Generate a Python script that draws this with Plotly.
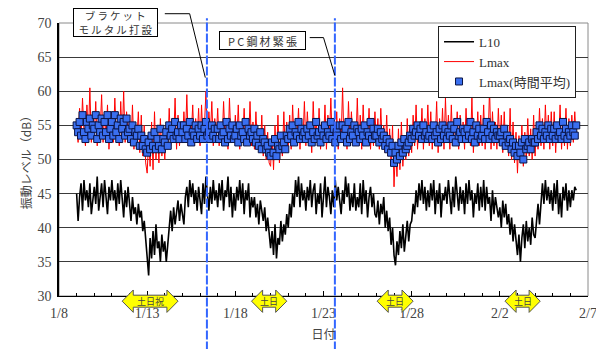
import pandas as pd
import plotly.graph_objects as go

# ---------------- data (2-hourly, from 2008-01-09 00:00) ----------------
START = "2008-01-09 00:00"
STEP = "2h"

L10 = [
    45.0, 41.0, 44.5, 46.5, 42.5, 47.0, 44.0, 45.5, 43.0, 46.5, 42.0, 44.5,   # 1/9
    46.0, 43.5, 47.5, 42.5, 45.0, 46.5, 43.0, 47.0, 44.5, 42.0, 46.0, 44.0,   # 1/10
    47.0, 44.0, 45.5, 42.5, 46.5, 43.5, 47.0, 44.5, 41.5, 45.5, 43.0, 46.0,   # 1/11
    43.5, 41.0, 44.5, 42.0, 43.0, 40.5, 43.5, 41.5, 42.5, 39.5, 41.0, 38.5,   # 1/12
    36.0, 33.0, 38.5, 35.5, 39.5, 36.0, 40.5, 37.0, 38.0, 35.0, 39.0, 36.5,   # 1/13
    38.0, 35.0, 37.5, 40.5, 42.5, 39.5, 43.0, 40.5, 42.0, 44.0, 41.0, 43.5,   # 1/14
    42.0, 40.5, 44.5, 46.0, 43.0, 47.0, 44.5, 46.5, 43.5, 45.5, 42.5, 46.0,   # 1/15
    44.0, 42.0, 46.5, 43.5, 47.5, 45.0, 42.5, 46.0, 43.5, 47.0, 44.0, 45.5,   # 1/16
    43.0, 46.5, 44.0, 47.0, 42.5, 45.5, 44.5, 47.5, 43.0, 46.0, 41.5, 45.0,   # 1/17
    42.5, 46.0, 44.0, 47.0, 43.5, 46.5, 42.0, 45.5, 44.0, 46.5, 41.5, 44.5,   # 1/18
    43.0, 44.5, 41.5, 43.5, 40.5, 44.0, 42.0, 41.0, 43.0, 39.5, 41.5, 38.5,   # 1/19
    37.0, 39.5, 36.0, 40.5, 35.5, 38.5, 37.5, 41.0, 38.0, 40.5, 39.0, 42.0,   # 1/20
    40.0, 43.5, 41.5, 45.0, 43.0, 47.0, 44.5, 47.5, 43.0, 46.5, 44.0, 45.5,   # 1/21
    42.5, 46.0, 44.0, 47.0, 43.0, 45.5, 46.5, 42.0, 45.0, 43.5, 46.5, 41.5,   # 1/22
    44.0, 47.5, 43.0, 46.0, 44.5, 42.0, 45.5, 43.0, 47.0, 44.0, 46.0, 43.5,   # 1/23
    42.0, 45.5, 43.5, 47.5, 44.5, 46.5, 42.5, 45.0, 43.0, 46.5, 42.5, 44.5,   # 1/24
    43.0, 46.5, 42.0, 47.0, 43.5, 45.5, 41.5, 44.5, 46.0, 43.0, 45.0, 42.0,   # 1/25
    41.5, 44.0, 40.5, 43.5, 42.0, 44.5, 40.0, 42.5, 39.5, 41.5, 37.5, 40.0,   # 1/26
    36.0, 34.5, 38.0, 36.0, 39.5, 37.0, 40.5, 36.5, 39.0, 41.0, 38.0, 40.5,   # 1/27
    41.0, 43.5, 42.0, 45.5, 43.0, 46.5, 44.0, 47.0, 43.5, 46.0, 42.5, 45.5,   # 1/28
    43.0, 46.5, 44.0, 47.0, 42.0, 45.5, 43.5, 46.5, 41.5, 45.0, 44.0, 46.0,   # 1/29
    43.5, 47.0, 44.5, 42.0, 46.0, 43.0, 47.5, 44.5, 42.5, 46.0, 43.5, 45.5,   # 1/30
    42.0, 46.5, 43.5, 47.0, 44.0, 45.5, 41.5, 45.0, 43.5, 46.5, 42.5, 46.0,   # 1/31
    43.0, 47.0, 42.5, 46.0, 43.5, 44.5, 41.0, 45.5, 42.0, 44.5, 43.0, 41.5,   # 2/1
    43.0, 40.0, 44.0, 41.5, 43.5, 40.5, 42.0, 39.0, 41.5, 38.0, 40.5, 37.5,   # 2/2
    36.0, 39.0, 35.0, 38.5, 40.5, 37.0, 41.0, 38.0, 40.0, 37.5, 41.5, 39.0,   # 2/3
    38.5, 41.0, 43.5, 40.5, 44.5, 46.5, 43.5, 47.0, 44.0, 46.0, 43.5, 45.5,   # 2/4
    42.5, 46.5, 43.5, 47.0, 42.0, 45.0, 41.5, 46.0, 44.0, 46.5, 42.5, 45.5,   # 2/5
    43.0, 45.5, 44.0, 46.0, 45.5,                                             # 2/6
]

LMAX = [
    55.0, 52.5, 57.5, 53.0, 59.0, 54.0, 52.0, 58.0, 53.5, 60.5, 52.5, 56.0,
    53.5, 58.5, 52.0, 56.5, 54.0, 59.5, 52.5, 57.0, 53.0, 58.0, 51.5, 55.5,
    57.0, 52.5, 59.0, 53.5, 55.5, 52.0, 58.5, 53.0, 60.0, 52.5, 57.0, 53.5,
    56.0, 52.0, 58.0, 51.5, 55.5, 53.0, 57.0, 51.0, 56.5, 50.5, 55.0, 49.5,
    48.0, 53.0, 49.0, 55.5, 48.5, 57.0, 50.0, 54.5, 49.5, 56.0, 50.5, 53.5,
    50.0, 55.0, 51.5, 57.5, 52.0, 54.5, 52.5, 59.0, 51.5, 56.5, 52.0, 55.5,
    52.5, 57.0, 53.0, 59.5, 52.0, 55.5, 53.5, 58.0, 52.0, 56.0, 53.0, 57.5,
    52.0, 58.0, 53.0, 55.0, 60.0, 52.5, 57.0, 53.5, 58.5, 52.0, 56.0, 53.0,
    57.5, 52.0, 55.5, 52.5, 58.5, 53.0, 56.0, 51.5, 59.0, 53.0, 55.0, 52.5,
    56.5, 52.5, 58.0, 51.5, 55.5, 53.0, 57.5, 52.0, 56.0, 52.5, 58.5, 52.0,
    55.5, 51.5, 57.0, 52.0, 54.5, 51.0, 56.5, 50.5, 55.0, 50.0, 54.0, 49.5,
    49.0, 53.5, 48.5, 55.0, 50.0, 56.5, 49.5, 54.0, 50.5, 57.0, 51.0, 55.5,
    52.0, 56.5, 51.5, 58.0, 52.5, 55.0, 53.0, 57.5, 51.5, 56.0, 52.5, 58.5,
    52.0, 57.0, 53.0, 55.5, 51.0, 58.5, 52.5, 56.0, 52.0, 57.5, 51.5, 55.0,
    52.5, 58.0, 51.5, 56.5, 53.0, 59.0, 52.0, 55.5, 52.5, 57.0, 51.5, 56.0,
    53.0, 60.5, 52.0, 56.0, 51.5, 58.5, 52.5, 57.0, 53.0, 55.5, 52.0, 59.0,
    52.0, 56.5, 51.5, 58.0, 52.5, 55.5, 53.0, 57.5, 51.5, 56.0, 52.0, 57.0,
    52.5, 56.0, 51.5, 57.5, 52.0, 55.0, 51.0, 56.5, 50.5, 54.5, 49.5, 55.0,
    46.0, 52.0, 47.5, 54.5, 48.5, 55.5, 49.0, 53.5, 50.0, 56.0, 50.5, 54.5,
    51.0, 56.5, 52.0, 58.0, 51.5, 55.5, 52.5, 57.5, 51.5, 56.0, 52.5, 58.0,
    52.0, 57.0, 51.5, 55.5, 52.5, 58.5, 51.0, 56.0, 52.0, 57.5, 51.5, 59.0,
    52.5, 56.5, 51.5, 58.0, 52.0, 55.0, 53.0, 57.0, 51.5, 56.5, 52.5, 55.5,
    51.5, 57.5, 52.5, 56.0, 52.0, 59.0, 51.0, 55.5, 52.5, 57.0, 52.0, 56.5,
    52.0, 58.0, 51.5, 56.0, 52.5, 60.5, 51.5, 57.0, 52.0, 55.5, 51.5, 57.5,
    52.0, 56.5, 51.0, 57.0, 51.5, 55.0, 50.5, 57.5, 50.0, 55.5, 49.5, 54.0,
    48.0, 53.5, 49.5, 55.0, 49.0, 54.0, 50.0, 56.0, 50.5, 54.5, 50.0, 56.5,
    50.5, 55.5, 51.5, 57.5, 52.0, 56.0, 51.5, 58.0, 52.5, 56.5, 51.5, 57.0,
    52.0, 57.0, 51.0, 55.5, 52.5, 58.0, 51.5, 56.0, 52.0, 57.5, 51.5, 56.0,
    52.0, 56.5, 52.5, 57.0, 53.0,
]

LMAX_AVG = [
    55.0, 54.0, 55.5, 53.5, 56.5, 54.0, 53.0, 55.5, 54.5, 56.0, 53.5, 55.0,
    54.5, 56.5, 53.0, 55.0, 54.0, 56.0, 53.5, 55.5, 54.0, 56.5, 53.0, 54.5,
    55.5, 53.5, 56.5, 54.0, 55.0, 53.0, 56.0, 54.5, 55.5, 53.5, 56.0, 54.0,
    54.5, 53.0, 55.0, 52.5, 54.0, 53.5, 54.5, 52.0, 53.5, 52.0, 53.0, 51.5,
    51.0, 52.5, 51.5, 53.5, 52.0, 54.0, 51.5, 53.0, 52.0, 54.5, 51.5, 53.0,
    52.5, 54.0, 52.0, 55.0, 53.5, 54.5, 53.0, 55.5, 53.5, 54.0, 53.0, 55.0,
    54.0, 55.0, 53.0, 54.5, 53.5, 55.5, 52.5, 54.0, 53.5, 55.0, 53.0, 54.5,
    53.5, 55.0, 53.0, 54.5, 55.5, 53.5, 54.0, 53.0, 55.0, 53.5, 54.5, 53.0,
    54.5, 53.0, 55.0, 53.5, 54.0, 52.5, 55.5, 53.0, 54.5, 53.5, 55.0, 53.0,
    53.5, 54.5, 52.5, 55.0, 53.5, 54.0, 53.0, 55.5, 52.5, 54.5, 53.5, 54.0,
    53.0, 54.5, 52.5, 53.5, 52.0, 54.0, 51.5, 53.0, 52.5, 51.5, 52.0, 51.0,
    50.5, 52.5, 51.0, 53.0, 50.5, 52.0, 51.5, 53.5, 52.0, 52.5, 51.5, 53.5,
    53.0, 54.5, 53.5, 55.0, 52.5, 54.0, 53.5, 55.5, 53.0, 54.5, 53.5, 54.0,
    53.0, 54.5, 53.5, 55.0, 52.5, 54.0, 53.0, 55.5, 53.5, 54.0, 52.5, 54.5,
    53.5, 55.0, 53.0, 54.0, 53.5, 55.5, 53.0, 54.5, 52.5, 54.0, 53.5, 55.0,
    53.0, 55.0, 53.5, 54.5, 52.5, 55.5, 53.0, 54.0, 53.5, 55.0, 52.5, 54.5,
    54.0, 53.0, 54.5, 53.5, 55.0, 52.5, 54.0, 53.5, 55.5, 53.0, 54.5, 53.5,
    53.5, 54.5, 52.5, 54.0, 53.0, 53.5, 52.0, 53.0, 51.5, 52.5, 51.0, 52.0,
    49.5, 51.0, 50.0, 52.0, 50.5, 52.5, 51.0, 53.0, 51.5, 52.0, 52.5, 53.5,
    53.0, 54.5, 53.5, 54.0, 55.0, 53.5, 54.5, 53.0, 55.0, 53.5, 54.0, 53.0,
    53.5, 54.5, 53.0, 55.0, 53.5, 54.0, 52.5, 54.5, 53.0, 55.0, 53.5, 54.5,
    53.0, 54.0, 53.5, 55.0, 53.0, 54.5, 52.5, 55.5, 53.5, 54.0, 53.0, 54.5,
    54.0, 53.0, 54.5, 53.5, 55.5, 53.0, 54.0, 52.5, 55.0, 53.5, 54.5, 53.0,
    53.5, 54.5, 53.0, 55.5, 54.0, 53.0, 55.0, 53.5, 54.5, 53.0, 54.0, 53.5,
    53.5, 54.0, 52.5, 54.5, 52.0, 53.5, 52.5, 53.0, 51.5, 52.5, 51.0, 52.0,
    50.5, 52.0, 51.0, 52.5, 50.0, 53.0, 51.5, 52.0, 52.5, 51.5, 53.0, 52.5,
    52.5, 54.0, 53.0, 55.0, 53.5, 54.5, 53.0, 54.0, 53.5, 55.0, 53.0, 54.5,
    53.5, 54.5, 53.0, 55.0, 53.5, 54.0, 53.0, 55.5, 53.5, 54.5, 53.0, 54.0,
    53.5, 55.0, 54.0, 53.5, 55.0,
]

SERIES_NAMES = ["L10", "Lmax", "Lmax(時間平均)"]

X_RANGE = ["2008-01-08", "2008-02-07"]
Y_RANGE = [30, 70]

EVENT_TIMES = ["2008-01-16 09:20", "2008-01-23 15:30"]
EVENT_LABELS = ["ブ\u2009ラ\u2009ケ\u2009ッ\u2009ト<br>モ\u2009ル\u2009タ\u2009ル\u2009打\u2009設",
                "P\u2009C\u2009鋼\u2009材\u2009緊\u2009張"]

WEEKEND_START = ["2008-01-11 14:00", "2008-01-18 22:00", "2008-01-26 01:00", "2008-02-02 07:00"]
WEEKEND_END = ["2008-01-14 18:00", "2008-01-20 22:00", "2008-01-28 02:00", "2008-02-04 07:00"]
WEEKEND_LABELS = ["土日祝", "土日", "土日", "土日"]

X_TITLE = "日付"
Y_TITLE = "振動レベル（dB）"

# ---------------- figure ----------------
times = pd.date_range(START, periods=len(L10), freq=STEP)

SERIF = "Liberation Serif, Noto Sans CJK JP"
CJK = "Noto Sans CJK JP"

fig = go.Figure()
fig.add_trace(go.Scatter(x=times, y=L10, mode="lines", name=SERIES_NAMES[0],
                         line=dict(color="black", width=1.6)))
fig.add_trace(go.Scatter(x=times, y=LMAX, mode="lines", name=SERIES_NAMES[1],
                         line=dict(color="#ff0000", width=1)))
fig.add_trace(go.Scatter(x=times, y=LMAX_AVG, mode="markers", name=SERIES_NAMES[2],
                         marker=dict(symbol="square", size=7, color="#3a6ff0",
                                     line=dict(color="#0a1445", width=1))))

x0 = pd.Timestamp(X_RANGE[0])
x1 = pd.Timestamp(X_RANGE[1])


def xp(t):
    return (pd.Timestamp(t) - x0) / (x1 - x0)


shapes = []
shapes.append(dict(type="rect", xref="paper", yref="paper", x0=0, x1=1, y0=0, y1=1,
                   line=dict(color="#8a8a8a", width=1), layer="below"))
for t in EVENT_TIMES:
    shapes.append(dict(type="line", xref="x", yref="paper", x0=t, x1=t, y0=-0.2, y1=1.017,
                       line=dict(color="#3366ff", width=2, dash="9px,2px")))

e1 = xp(EVENT_TIMES[0])
e2 = xp(EVENT_TIMES[1])
shapes.append(dict(type="path", xref="paper", yref="paper",
                   path=f"M 0.200 1.034 L 0.247 1.034 L {e1 - 0.003:.4f} 0.80",
                   line=dict(color="black", width=1)))
shapes.append(dict(type="path", xref="paper", yref="paper",
                   path=f"M 0.474 0.9465 L 0.500 0.9465 L {e2:.4f} 0.8077",
                   line=dict(color="black", width=1)))

yc, hb, hh = -0.019, 0.022, 0.041
head = 0.021
annotations = []
for s, e, lab in zip(WEEKEND_START, WEEKEND_END, WEEKEND_LABELS):
    a, b = xp(s), xp(e)
    p = (f"M {a:.4f} {yc:.4f} L {a+head:.4f} {yc+hh:.4f} L {a+head:.4f} {yc+hb:.4f} "
         f"L {b-head:.4f} {yc+hb:.4f} L {b-head:.4f} {yc+hh:.4f} L {b:.4f} {yc:.4f} "
         f"L {b-head:.4f} {yc-hh:.4f} L {b-head:.4f} {yc-hb:.4f} L {a+head:.4f} {yc-hb:.4f} "
         f"L {a+head:.4f} {yc-hh:.4f} Z")
    shapes.append(dict(type="path", xref="paper", yref="paper", path=p,
                       fillcolor="#ffff00", line=dict(color="#555555", width=1)))
    annotations.append(dict(xref="paper", yref="paper", x=(a + b) / 2, y=yc, text=lab,
                            showarrow=False, font=dict(family=CJK, size=9, color="#444444"),
                            xanchor="center", yanchor="middle"))

# callout boxes
annotations.append(dict(xref="paper", yref="paper", x=0.1062, y=1.0026, text=EVENT_LABELS[0],
                        showarrow=False, xanchor="center", yanchor="middle",
                        width=81, height=25, borderpad=1,
                        font=dict(family=CJK, size=10.5, color="#333333"),
                        bordercolor="black", borderwidth=1, bgcolor="white"))
annotations.append(dict(xref="paper", yref="paper", x=0.3841, y=0.935, text=EVENT_LABELS[1],
                        showarrow=False, xanchor="center", yanchor="middle",
                        width=83, height=15, borderpad=1,
                        font=dict(family=CJK, size=11, color="#333333"),
                        bordercolor="black", borderwidth=1, bgcolor="white"))

# y-axis title as a rotated annotation
annotations.append(dict(xref="paper", yref="paper", x=-0.063, y=0.5, text=Y_TITLE,
                        showarrow=False, textangle=-90, xanchor="center", yanchor="middle",
                        font=dict(family=CJK, size=12, color="#444444")))

# the page body has an 8px default margin: size the figure to sit in the 604x349 view
fig.update_layout(
    width=596, height=341,
    margin=dict(l=51, r=16, t=15, b=53, autoexpand=False),
    paper_bgcolor="white", plot_bgcolor="white",
    showlegend=True,
    legend=dict(x=0.7165, y=0.99, xanchor="left", yanchor="top",
                bgcolor="white", bordercolor="#222222", borderwidth=1,
                font=dict(family=SERIF, size=13, color="#333333"),
                tracegroupgap=0, itemwidth=30),
    shapes=shapes,
    annotations=annotations,
    xaxis=dict(type="date", range=X_RANGE, tick0=X_RANGE[0], dtick=5 * 86400000,
               tickformat="%-m/%-d", showgrid=False, zeroline=False, automargin=False,
               showline=True, linecolor="black", linewidth=1,
               ticks="inside", ticklen=5, tickcolor="black", ticklabelstandoff=4,
               minor=dict(dtick=86400000, ticks="inside", ticklen=3, tickcolor="black"),
               tickfont=dict(family=SERIF, size=14, color="#444444"),
               title=dict(text=X_TITLE, font=dict(family=CJK, size=12, color="#444444"),
                          standoff=10)),
    yaxis=dict(range=Y_RANGE, dtick=5, showgrid=True, gridcolor="#3a3a3a", gridwidth=1,
               zeroline=False, showline=True, linecolor="black", linewidth=1.5,
               automargin=False, ticklabelstandoff=3,
               ticks="", tickfont=dict(family=SERIF, size=14, color="#444444")),
)

fig.write_html("out.html")
